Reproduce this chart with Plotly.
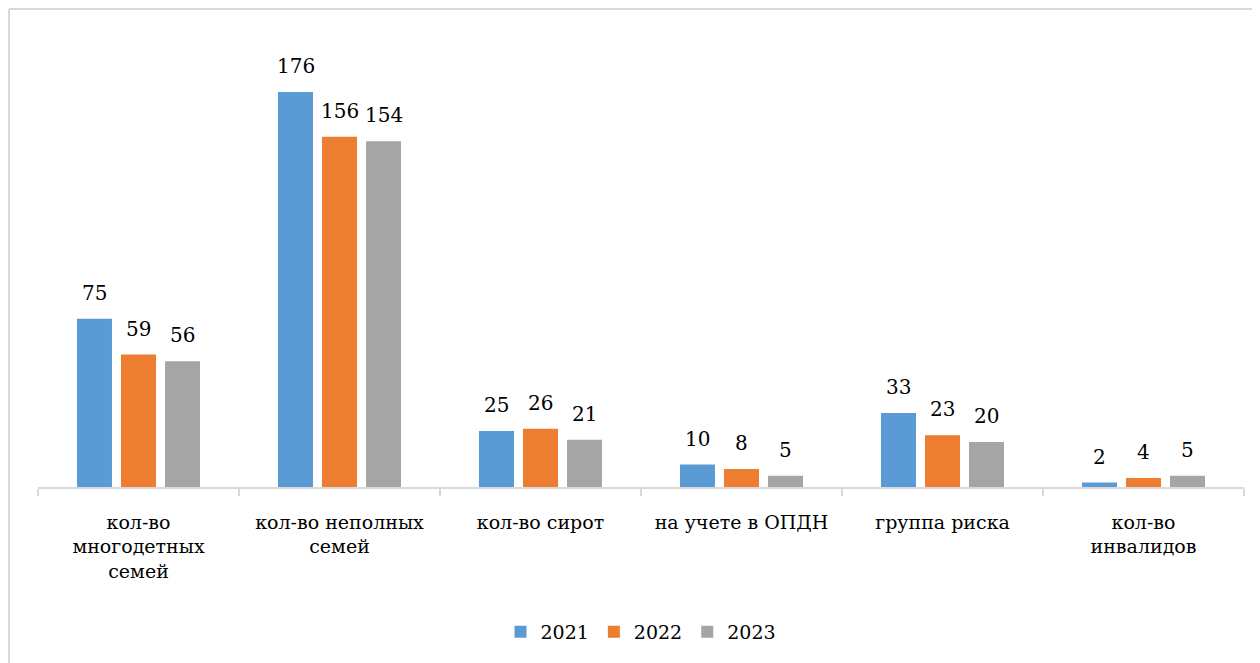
import plotly.graph_objects as go

categories = ["кол-во<br>многодетных<br>семей", "кол-во неполных<br>семей", "кол-во сирот",
              "на учете в ОПДН", "группа риска", "кол-во<br>инвалидов"]
series_names = ["2021", "2022", "2023"]
values_2021 = [75, 176, 25, 10, 33, 2]
values_2022 = [59, 156, 26, 8, 23, 4]
values_2023 = [56, 154, 21, 5, 20, 5]
colors = ["#5B9BD5", "#ED7D31", "#A5A5A5"]

W, H = 1260, 663
OFF = 8  # page body margin
ml, mt = 38 - OFF, 38 - OFF
mr = W - (1244 - OFF)
mb = H - (487 - OFF)
FONT = "DejaVu Serif"

fig = go.Figure()
all_vals = [values_2021, values_2022, values_2023]
for name, vals, col in zip(series_names, all_vals, colors):
    fig.add_trace(go.Bar(x=categories, y=vals, name=name, marker_color=col,
                         marker_line_width=0))

slot_px = 44
for i, vals in enumerate(all_vals):
    for c, v in zip(categories, vals):
        fig.add_annotation(x=c, y=v, text=str(v), showarrow=False,
                           xref="x", yref="y", yanchor="bottom",
                           xshift=(i - 1) * slot_px, yshift=12,
                           font=dict(family=FONT, size=20, color="#000"))

pw = W - ml - mr
ph = H - mt - mb
bx = (1 - ml) / pw
by = (ph + mt - 1) / ph
fig.add_shape(type="line", xref="paper", yref="paper", x0=bx, x1=1.05, y0=by, y1=by,
              line=dict(color="#d9d9d9", width=2))
fig.add_shape(type="line", xref="paper", yref="paper", x0=bx, x1=bx, y0=by, y1=-0.5,
              line=dict(color="#d9d9d9", width=2))

fig.update_layout(
    width=W, height=H,
    margin=dict(l=ml, r=mr, t=mt, b=mb),
    plot_bgcolor="white", paper_bgcolor="white",
    barmode="group", bargap=0.343, bargroupgap=0.2045,
    font=dict(family=FONT, size=19, color="#000"),
    showlegend=True,
    legend=dict(orientation="h", x=0.5, xanchor="center", y=(487 - 632) / 449, yanchor="middle",
                font=dict(family=FONT, size=19), traceorder="normal"),
    xaxis=dict(showline=True, linecolor="#d9d9d9", linewidth=1.5,
               ticks="outside", tickson="boundaries", ticklen=7, tickcolor="#d9d9d9",
               tickwidth=1.5, ticklabelstandoff=17, tickangle=0,
               tickfont=dict(family=FONT, size=19, color="#000")),
    yaxis=dict(range=[0, 200], visible=False, showgrid=False),
)

fig.write_html("out.html")
